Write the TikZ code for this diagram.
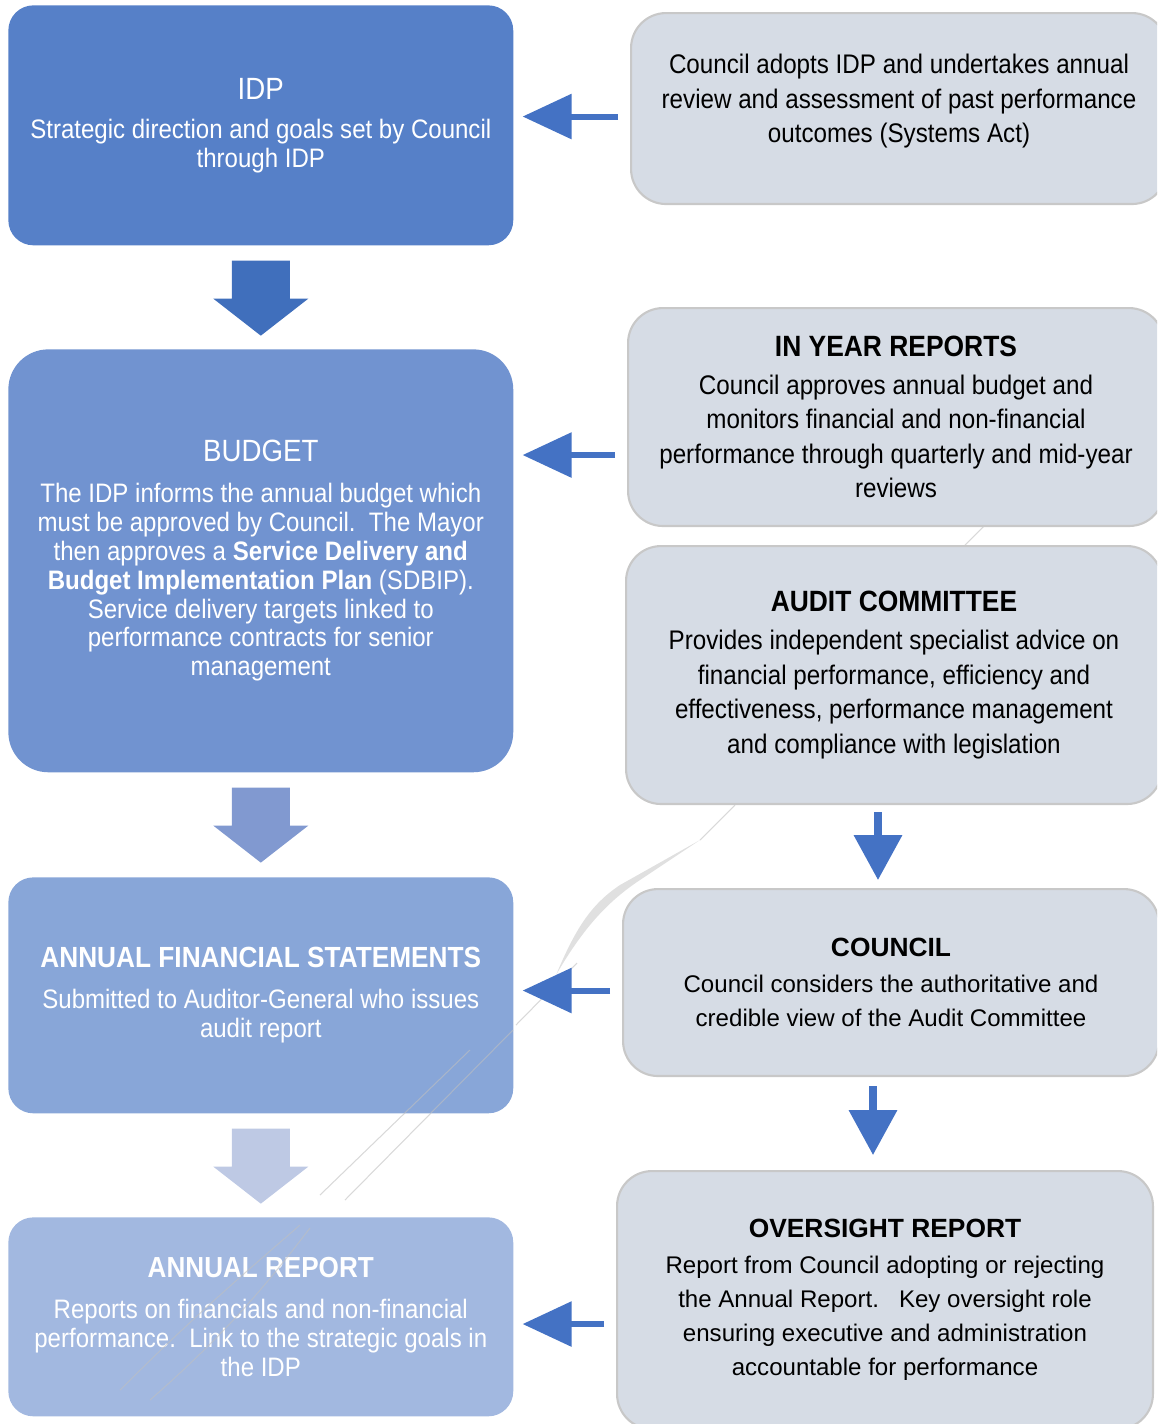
\documentclass[tikz,border=0pt]{standalone}
\usepackage{fontspec}
\setmainfont{Liberation Sans}
\newfontfamily\narrowfont{Liberation Sans}[FakeStretch=0.9]
\usetikzlibrary{calc}
\usetikzlibrary{arrows.meta}
\definecolor{idpblue}{RGB}{86,128,200}
\definecolor{budgetblue}{RGB}{113,147,208}
\definecolor{afsblue}{RGB}{136,166,216}
\definecolor{arblue}{RGB}{162,184,224}
\definecolor{arrowA}{RGB}{64,111,188}
\definecolor{arrowB}{RGB}{129,153,208}
\definecolor{arrowC}{RGB}{190,201,228}
\definecolor{sideblue}{RGB}{68,114,196}
\definecolor{paleback}{RGB}{214,220,229}
\definecolor{paleline}{RGB}{200,200,200}

\begin{document}
\begin{tikzpicture}[x=0.02cm,y=-0.02cm,
  leftbox/.style={fill=#1, text=white, rounded corners=0.5cm, minimum width=10.1cm,
    anchor=north west, align=center, inner sep=0pt,
    font=\narrowfont\fontsize{15.2}{16.4}\selectfont},
  rightbox/.style={fill=paleback, draw=paleline, line width=1.2pt, rounded corners=0.7cm,
    minimum width=10.72cm, anchor=north west, align=center, inner sep=0pt,
    font=\narrowfont\fontsize{15.3}{19.6}\selectfont},
  plainfont/.style={font=\fontsize{13.7}{19.4}\selectfont},
  sidearrow/.style={draw=sideblue, line width=3.4pt,
    -{Triangle[length=0.98cm,width=0.88cm]}, shorten <=0.24cm, shorten >=0.18cm},
  downarrow/.style={draw=sideblue, line width=4pt,
    -{Triangle[length=0.9cm,width=0.94cm]}},
  swoosh/.style={draw=black!25, line width=0.6pt, opacity=0.6}]

 \useasboundingbox (0,0) rectangle (1157,1424);
 \clip (0,0) rectangle (1157,1424);

 % left column
 \node[leftbox=idpblue, minimum height=4.8cm] (idp) at (8,5)
   {{\fontsize{17.5}{20}\selectfont IDP}\\[6pt]
    Strategic direction and goals set by Council\\ through IDP};
 \node[leftbox=budgetblue, rounded corners=0.8cm, minimum height=8.46cm] (budget) at (8,349)
   {{\fontsize{17.5}{20}\selectfont BUDGET}\\[7pt]
    The IDP informs the annual budget which\\
    must be approved by Council.\ \ The Mayor\\
    then approves a \textbf{Service Delivery and}\\
    \textbf{Budget Implementation Plan} (SDBIP).\\
    Service delivery targets linked to\\
    performance contracts for senior\\
    management};
 \node[leftbox=afsblue, minimum height=4.72cm] (afs) at (8,877)
   {{\fontsize{16.6}{20}\selectfont\bfseries ANNUAL FINANCIAL STATEMENTS}\\[7pt]
    Submitted to Auditor-General who issues\\ audit report};
 \node[leftbox=arblue, minimum height=3.98cm] (report) at (8,1217)
   {{\fontsize{16.5}{20}\selectfont\bfseries ANNUAL REPORT}\\[7pt]
    Reports on financials and non-financial\\
    performance.\ \ Link to the strategic goals in\\
    the IDP};

 % faint swooshes in the background
 \draw[swoosh] (120,1390) .. controls (200,1310) and (260,1260) .. (300,1225);
 \draw[swoosh] (150,1400) .. controls (230,1330) and (270,1280) .. (310,1228);
 \draw[swoosh] (320,1195) -- (470,1050);
 \draw[swoosh] (345,1200) -- (513,1030);
 \draw[swoosh] (516,1025) -- (577,963);
 \fill[black!12] (556,975) .. controls (575,930) and (590,905) .. (620,885)
   -- (700,840) -- (640,880) .. controls (610,900) and (585,925) .. cycle;
 \draw[swoosh] (700,840) -- (735,805);
 \draw[swoosh] (965,545) -- (985,525);

 % right column
 \node[rightbox, minimum height=3.82cm] (adopt) at (630,12)
   {Council adopts IDP and undertakes annual\\
    review and assessment of past performance\\
    outcomes (Systems Act)\\[-8.3pt]};
 \node[rightbox, minimum height=4.36cm] (inyear) at (627,307)
   {{\fontsize{16.7}{20}\selectfont\bfseries IN YEAR REPORTS}\\[2pt]
    Council approves annual budget and\\
    monitors financial and non-financial\\
    performance through quarterly and mid-year\\
    reviews};
 \node[rightbox, minimum height=5.16cm] (audit) at (625,545)
   {{\fontsize{16.7}{20}\selectfont\bfseries AUDIT COMMITTEE}\\[2pt]
    Provides independent specialist advice on\\
    financial performance, efficiency and\\
    effectiveness, performance management\\
    and compliance with legislation};
 \node[rightbox, plainfont, minimum height=3.74cm] (council) at (622,888)
   {{\fontsize{15}{18}\selectfont\bfseries COUNCIL}\\[1pt]
    Council considers the authoritative and\\
    credible view of the Audit Committee};
 \node[rightbox, plainfont, minimum height=5.16cm] (oversight) at (616,1170)
   {{\fontsize{15}{18}\selectfont\bfseries OVERSIGHT REPORT}\\[1pt]
    Report from Council adopting or rejecting\\
    the Annual Report.\ \ \ Key oversight role\\
    ensuring executive and administration\\
    accountable for performance};

 % block arrows down the left
 \foreach \from/\col in {idp/arrowA, budget/arrowB, afs/arrowC}
   \fill[\col] ($(\from.south)+(-29,15)$) -- ++(58,0) -- ++(0,38) -- ++(18.5,0)
     -- ($(\from.south)+(0,90)$) -- ($(\from.south)+(-47.5,53)$) -- ++(18.5,0) -- cycle;

 % arrows from right to left
 \coordinate (s1) at ($(adopt.west)+(0,8)$);
 \coordinate (s2) at ($(inyear.west)+(0,38)$);
 \coordinate (s3) at ($(council.west)+(0,8)$);
 \coordinate (s4) at ($(oversight.west)+(0,24)$);
 \draw[sidearrow] (s1) -- (s1 -| idp.east);
 \draw[sidearrow] (s2) -- (s2 -| budget.east);
 \draw[sidearrow] (s3) -- (s3 -| afs.east);
 \draw[sidearrow] (s4) -- (s4 -| report.east);

 % arrows down the right
 \draw[downarrow, shorten <=0.14cm, shorten >=0.16cm]
   ($(audit.south)+(-16,0)$) -- ($(council.north)+(-13,0)$);
 \draw[downarrow, shorten <=0.18cm, shorten >=0.3cm]
   ($(council.south)+(-18,0)$) -- ($(oversight.north)+(-12,0)$);

\end{tikzpicture}
\end{document}
